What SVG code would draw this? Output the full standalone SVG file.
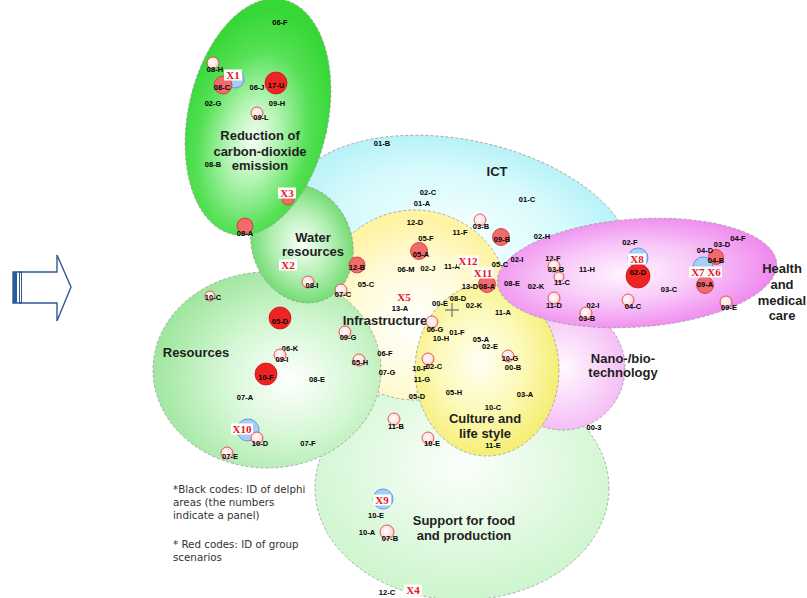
<svg xmlns="http://www.w3.org/2000/svg" width="807" height="598" viewBox="0 0 807 598">
<style>
.reg{stroke:#9a9a9a;stroke-width:0.8;stroke-dasharray:3 2}
.t{font-family:"Liberation Sans",Arial,sans-serif;font-weight:bold;font-size:7.5px;fill:#000;text-anchor:middle}
.lab{font-family:"Liberation Sans",Arial,sans-serif;font-weight:bold;font-size:13px;fill:#1e1e1e;text-anchor:middle}
.note{font-family:"DejaVu Sans",Verdana,sans-serif;font-size:10.3px;fill:#333}
.x{font-family:"Liberation Serif","Times New Roman",serif;font-weight:bold;font-size:11px;fill:#e8141c;text-anchor:middle}
.xb{fill:#fff}
.p{fill:url(#gp);stroke:#dc3c3c;stroke-width:0.8}
.r{fill:#ee2424;stroke:#c81414;stroke-width:0.8}
.s{fill:#f06c6c;stroke:#d03030;stroke-width:0.8}
.b{fill:#a6cef6;stroke:#5a9ae6;stroke-width:1}
</style>
<defs>
<radialGradient id="gp" cx="0.45" cy="0.45" r="0.6"><stop offset="0" stop-color="#ffffff"/><stop offset="0.6" stop-color="#ffe4e4"/><stop offset="1" stop-color="#f6b0b0"/></radialGradient>
<radialGradient id="gCO2" cx="0.5" cy="0.6" r="0.55"><stop offset="0" stop-color="#f4fff4"/><stop offset="0.3" stop-color="#b8f5b8"/><stop offset="0.7" stop-color="#55e055"/><stop offset="1" stop-color="#36d836"/></radialGradient>
<radialGradient id="gWat" cx="0.5" cy="0.5" r="0.55"><stop offset="0" stop-color="#fafffa"/><stop offset="0.5" stop-color="#b6f0b6"/><stop offset="1" stop-color="#66d866"/></radialGradient>
<radialGradient id="gRes" cx="0.6" cy="0.55" r="0.6"><stop offset="0" stop-color="#ffffff"/><stop offset="0.5" stop-color="#d4f7d4"/><stop offset="1" stop-color="#9fe69f"/></radialGradient>
<radialGradient id="gSup" cx="0.5" cy="0.4" r="0.6"><stop offset="0" stop-color="#fbfffb"/><stop offset="1" stop-color="#cdf5cd"/></radialGradient>
<radialGradient id="gICT" cx="0.5" cy="0.5" r="0.55"><stop offset="0" stop-color="#f8ffff"/><stop offset="0.6" stop-color="#d6fafc"/><stop offset="1" stop-color="#aef0f6"/></radialGradient>
<radialGradient id="gInf" cx="0.5" cy="0.6" r="0.55"><stop offset="0" stop-color="#ffffff"/><stop offset="0.6" stop-color="#fffbd8"/><stop offset="1" stop-color="#fff3a4"/></radialGradient>
<radialGradient id="gCul" cx="0.45" cy="0.45" r="0.6"><stop offset="0" stop-color="#fffff4"/><stop offset="0.5" stop-color="#fdf9b8"/><stop offset="1" stop-color="#f4ec6a"/></radialGradient>
<radialGradient id="gHea" cx="0.46" cy="0.5" r="0.55"><stop offset="0" stop-color="#fff6ff"/><stop offset="0.5" stop-color="#f8c6f8"/><stop offset="1" stop-color="#ee86ee"/></radialGradient>
<radialGradient id="gNan" cx="0.5" cy="0.5" r="0.55"><stop offset="0" stop-color="#fffaff"/><stop offset="1" stop-color="#f4b8f4"/></radialGradient>
</defs>
<rect width="807" height="598" fill="#ffffff"/>

<g id="regions">
<ellipse id="r-support" class="reg" cx="462" cy="488" rx="147" ry="112" fill="url(#gSup)"/>
<ellipse id="r-ict" class="reg" cx="460" cy="235" rx="175" ry="95" transform="rotate(12 460 235)" fill="url(#gICT)"/>
<circle id="r-nano" class="reg" cx="563" cy="368" r="62" fill="url(#gNan)"/>
<circle id="r-infra" class="reg" cx="415" cy="305" r="95" fill="url(#gInf)"/>
<ellipse id="r-culture" class="reg" cx="487" cy="370" rx="72" ry="86" fill="url(#gCul)"/>
<ellipse id="r-health" class="reg" cx="637" cy="273" rx="140" ry="54" transform="rotate(-4 637 273)" fill="url(#gHea)"/>
<ellipse id="r-resources" class="reg" cx="267" cy="370" rx="114" ry="98" fill="url(#gRes)"/>
<ellipse id="r-water" class="reg" cx="302" cy="244" rx="50" ry="60" transform="rotate(-20 302 244)" fill="url(#gWat)"/>
<ellipse id="r-co2" class="reg" cx="258" cy="117" rx="70" ry="120" transform="rotate(12 258 117)" fill="url(#gCO2)"/>
</g>

<g id="region-labels">
<text class="lab" x="260" y="140">Reduction of</text>
<text class="lab" x="260" y="155.5">carbon-dioxide</text>
<text class="lab" x="260" y="170">emission</text>
<text class="lab" x="497" y="176">ICT</text>
<text class="lab" x="313" y="242">Water</text>
<text class="lab" x="313" y="256">resources</text>
<text class="lab" x="196" y="357">Resources</text>
<text class="lab" x="385" y="325">Infrastructure</text>
<text class="lab" x="485" y="423">Culture and</text>
<text class="lab" x="485" y="438">life style</text>
<text class="lab" x="623" y="363">Nano-/bio-</text>
<text class="lab" x="623" y="377">technology</text>
<text class="lab" x="782" y="273">Health</text>
<text class="lab" x="782" y="289">and</text>
<text class="lab" x="782" y="305">medical</text>
<text class="lab" x="782" y="320">care</text>
<text class="lab" x="464" y="525">Support for food</text>
<text class="lab" x="464" y="540">and production</text>
</g>

<g id="connectors"></g>

<g id="arrow">
<polygon points="13,272 57,272 57,255 71,287 57,321 57,303 13,303" fill="#fff" stroke="#2e5a94" stroke-width="1.4"/>
<rect x="13" y="272" width="4" height="31" fill="#2e5a94"/>
<rect x="19.5" y="272" width="2" height="31" fill="none" stroke="#2e5a94" stroke-width="1"/>
</g>

<g id="nodes">
<g id="n06F"><text class="t" x="280" y="25">06-F</text></g>
<g id="n08H"><circle class="p" cx="213" cy="63" r="6"/><text class="t" x="215" y="72">08-H</text></g>
<g id="n08C"><circle class="b" cx="235" cy="79" r="9"/><circle class="s" cx="223" cy="85" r="9"/><text class="t" x="222" y="90">08-C</text><rect class="xb" x="224" y="69.5" width="18" height="11"/><text class="x" x="233" y="79">X1</text></g>
<g id="n06J"><text class="t" x="257" y="90">06-J</text></g>
<g id="n17U"><circle class="r" cx="276" cy="83" r="11"/><text class="t" x="276" y="88">17-U</text></g>
<g id="n02G"><text class="t" x="213" y="106">02-G</text></g>
<g id="n09H"><text class="t" x="277" y="106">09-H</text></g>
<g id="n09L"><circle class="p" cx="257" cy="113" r="6"/><text class="t" x="261" y="120">09-L</text></g>
<g id="n08B"><text class="t" x="213" y="167">08-B</text></g>
<g id="x3"><circle class="s" cx="288" cy="199" r="6"/><rect class="xb" x="278" y="187.5" width="18" height="11"/><text class="x" x="287" y="197">X3</text></g>
<g id="n08A"><circle class="s" cx="245" cy="226" r="8"/><text class="t" x="245" y="236">08-A</text></g>

<g id="n01B"><text class="t" x="382" y="146">01-B</text></g>
<g id="n02C"><text class="t" x="428" y="195">02-C</text></g>
<g id="n01A"><text class="t" x="422" y="206">01-A</text></g>
<g id="n01C"><text class="t" x="527" y="202">01-C</text></g>
<g id="n12D"><text class="t" x="415" y="225">12-D</text></g>
<g id="n03B"><circle class="p" cx="480" cy="220" r="6"/><text class="t" x="481" y="229">03-B</text></g>
<g id="n11F"><text class="t" x="460" y="235">11-F</text></g>
<g id="n09B"><circle class="s" cx="501" cy="237" r="8.5"/><text class="t" x="502" y="242">09-B</text></g>
<g id="n05F"><text class="t" x="426" y="241">05-F</text></g>
<g id="n05A"><circle class="s" cx="419" cy="251" r="8.5"/><text class="t" x="421" y="257">05-A</text></g>
<g id="n12B"><circle class="s" cx="357" cy="265" r="8"/><text class="t" x="357" y="270">12-B</text></g>
<g id="n06M"><text class="t" x="406" y="272">06-M</text></g>
<g id="n02J"><text class="t" x="428" y="271">02-J</text></g>
<g id="n11A"><text class="t" x="452" y="269">11-A</text></g>
<g id="n05C2"><text class="t" x="500" y="267">05-C</text></g>
<g id="n02H"><text class="t" x="542" y="239">02-H</text></g>
<g id="n13D"><text class="t" x="470" y="289">13-D</text></g>
<g id="n08A2"><circle class="s" cx="487" cy="284" r="8.5"/><text class="t" x="487" y="289">08-A</text></g>
<g id="x12"><rect class="xb" x="457" y="255.5" width="22" height="11"/><text class="x" x="468" y="265">X12</text></g>
<g id="x11"><rect class="xb" x="472" y="267.5" width="22" height="11"/><text class="x" x="483" y="277">X11</text></g>

<g id="n02I"><text class="t" x="517" y="262">02-I</text></g>
<g id="n12F"><text class="t" x="553" y="261">12-F</text></g>
<g id="n03B2"><circle class="p" cx="554" cy="266" r="6"/><text class="t" x="556" y="272">03-B</text></g>
<g id="n11C"><circle class="p" cx="559" cy="277" r="5"/><text class="t" x="562" y="285">11-C</text></g>
<g id="n11H"><text class="t" x="587" y="272">11-H</text></g>
<g id="n08E"><text class="t" x="512" y="286">08-E</text></g>
<g id="n02K"><text class="t" x="536" y="289">02-K</text></g>
<g id="n11D"><circle class="p" cx="554" cy="298" r="6"/><text class="t" x="554" y="308">11-D</text></g>
<g id="n02I2"><text class="t" x="593" y="308">02-I</text></g>
<g id="n03B3"><circle class="p" cx="586" cy="313" r="6"/><text class="t" x="587" y="321">03-B</text></g>
<g id="n04C"><circle class="p" cx="628" cy="300" r="6"/><text class="t" x="633" y="309">04-C</text></g>
<g id="n02F"><text class="t" x="630" y="245">02-F</text></g>
<g id="n02D"><circle class="b" cx="638" cy="258" r="10"/><circle class="r" cx="638" cy="276" r="12"/><rect class="xb" x="628" y="253.5" width="18" height="11"/><text class="x" x="637" y="263">X8</text><text class="t" x="638" y="275">02-D</text></g>
<g id="n03C"><text class="t" x="669" y="292">03-C</text></g>
<g id="n09A"><circle class="b" cx="703" cy="267" r="10"/><circle class="s" cx="705" cy="285" r="8.5"/><text class="t" x="705" y="287">09-A</text><rect class="xb" x="689" y="266.5" width="33" height="11"/><text class="x" x="706" y="276">X7 X6</text></g>
<g id="n04B"><circle class="s" cx="716" cy="257" r="7.5"/><text class="t" x="716" y="263">04-B</text></g>
<g id="n04D"><text class="t" x="705" y="253">04-D</text></g>
<g id="n03D"><text class="t" x="722" y="247">03-D</text></g>
<g id="n04F"><text class="t" x="738" y="241">04-F</text></g>
<g id="n09E"><circle class="p" cx="726" cy="302" r="6"/><text class="t" x="729" y="310">09-E</text></g>

<g id="x2"><rect class="xb" x="279" y="259.5" width="18" height="11"/><text class="x" x="288" y="269">X2</text></g>
<g id="n08I"><circle class="p" cx="308" cy="282" r="6"/><text class="t" x="312" y="288">08-I</text></g>
<g id="n07C"><circle class="p" cx="341" cy="290" r="6"/><text class="t" x="343" y="297">07-C</text></g>
<g id="n05C"><text class="t" x="366" y="287">05-C</text></g>
<g id="n10C"><circle class="p" cx="210" cy="296" r="5"/><text class="t" x="213" y="300">10-C</text></g>
<g id="n05D"><circle class="r" cx="280" cy="318" r="11"/><text class="t" x="280" y="324">05-D</text></g>
<g id="n09G"><circle class="p" cx="345" cy="332" r="6"/><text class="t" x="348" y="340">09-G</text></g>
<g id="n06K"><text class="t" x="290" y="351">06-K</text></g>
<g id="n09I"><circle class="p" cx="280" cy="355" r="6"/><text class="t" x="282" y="362">09-I</text></g>
<g id="n05H"><circle class="p" cx="359" cy="360" r="6"/><text class="t" x="360" y="365">05-H</text></g>
<g id="n10F"><circle class="r" cx="266" cy="374" r="11"/><text class="t" x="266" y="380">10-F</text></g>
<g id="n08E2"><text class="t" x="317" y="382">08-E</text></g>
<g id="n07A"><text class="t" x="245" y="400">07-A</text></g>
<g id="n10D"><circle class="b" cx="248" cy="430" r="11"/><rect class="xb" x="231" y="423.5" width="22" height="11"/><text class="x" x="242" y="433">X10</text><circle class="p" cx="257" cy="438" r="6"/><text class="t" x="260" y="446">10-D</text></g>
<g id="n07F"><text class="t" x="308" y="446">07-F</text></g>
<g id="n07E"><circle class="p" cx="227" cy="453" r="6"/><text class="t" x="230" y="459">07-E</text></g>

<g id="x5"><text class="x" x="404" y="301">X5</text></g>
<g id="n08D"><text class="t" x="458" y="301">08-D</text></g>
<g id="n00E"><text class="t" x="440" y="306">00-E</text></g>
<g id="cross"><path d="M445 310H459M452 303V317" stroke="#888" stroke-width="1.5" fill="none"/></g>
<g id="n02K2"><text class="t" x="474" y="308">02-K</text></g>
<g id="n11A2"><text class="t" x="503" y="315">11-A</text></g>
<g id="n13A"><text class="t" x="400" y="311">13-A</text></g>
<g id="n06G"><circle class="p" cx="432" cy="322" r="6"/><text class="t" x="435" y="332">06-G</text></g>
<g id="n01F"><text class="t" x="457" y="335">01-F</text></g>
<g id="n10H"><text class="t" x="441" y="341">10-H</text></g>
<g id="n05A2"><text class="t" x="481" y="342">05-A</text></g>
<g id="n02E"><text class="t" x="490" y="349">02-E</text></g>
<g id="n06F2"><text class="t" x="385" y="356">06-F</text></g>
<g id="n10G"><circle class="p" cx="508" cy="356" r="6"/><text class="t" x="510" y="361">10-G</text></g>
<g id="n00B"><text class="t" x="513" y="370">00-B</text></g>
<g id="n07G"><text class="t" x="387" y="375">07-G</text></g>
<g id="n02C2"><circle class="p" cx="428" cy="359" r="6"/><text class="t" x="420" y="371">10-F</text><text class="t" x="434" y="369">02-C</text></g>
<g id="n11G"><text class="t" x="422" y="382">11-G</text></g>
<g id="n05H2"><text class="t" x="454" y="395">05-H</text></g>
<g id="n05D2"><text class="t" x="417" y="399">05-D</text></g>
<g id="n03A"><text class="t" x="525" y="397">03-A</text></g>
<g id="n10C2"><text class="t" x="493" y="409.5">10-C</text></g>
<g id="n11B"><circle class="p" cx="394" cy="419" r="6"/><text class="t" x="396" y="429">11-B</text></g>
<g id="n10E"><circle class="p" cx="428" cy="438" r="6"/><text class="t" x="432" y="446">10-E</text></g>
<g id="n11E"><text class="t" x="493" y="448">11-E</text></g>
<g id="n003"><text class="t" x="594" y="430">00-3</text></g>

<g id="n10E2"><circle class="b" cx="383" cy="499" r="10"/><rect class="xb" x="373" y="494.5" width="18" height="11"/><text class="x" x="382" y="504">X9</text><text class="t" x="376" y="518">10-E</text></g>
<g id="n10A"><text class="t" x="367" y="535">10-A</text></g>
<g id="n07B"><circle class="p" cx="387" cy="532" r="7"/><text class="t" x="390" y="541">07-B</text></g>
<g id="n12C"><text class="t" x="387" y="595">12-C</text></g>
<g id="x4"><rect class="xb" x="404" y="584.5" width="18" height="11"/><text class="x" x="413" y="594">X4</text></g>
</g>

<g id="note">
<text class="note" x="173" y="493">*Black codes: ID of delphi</text>
<text class="note" x="173" y="506">areas (the numbers</text>
<text class="note" x="173" y="519">indicate a panel)</text>
<text class="note" x="173" y="548">* Red codes: ID of group</text>
<text class="note" x="173" y="561">scenarios</text>
</g>
</svg>
